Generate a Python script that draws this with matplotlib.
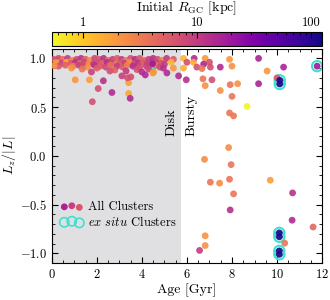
import numpy as np
import matplotlib
import matplotlib.pyplot as plt
from matplotlib.colors import LogNorm
from matplotlib.ticker import FuncFormatter

plt.rcParams['font.family'] = 'serif'
plt.rcParams['font.serif'] = ['cmr10']
plt.rcParams['mathtext.fontset'] = 'cm'
plt.rcParams['axes.formatter.use_mathtext'] = True
plt.rcParams['axes.unicode_minus'] = True

###############################################################################
###                               DATA
###############################################################################
# disk band (dense, Lz/|L| ~ 1)
age_band = [0.10, 0.30, 0.50, 0.70, 0.90, 1.10, 1.30, 1.50, 1.70, 1.90, 2.10, 2.30, 2.50, 2.70,
            2.90, 3.10, 3.30, 3.50, 3.70, 3.90, 4.10, 4.30, 4.50, 4.70, 4.90, 5.10, 5.40,
            0.20, 0.45, 0.65, 0.85, 1.05, 1.25, 1.45, 1.65, 1.85, 2.05, 2.25, 2.45, 2.65,
            2.85, 3.05, 3.25, 3.45, 3.65, 3.85, 4.05, 4.25, 4.45, 4.65, 4.85, 5.00, 5.30,
            0.30, 0.60, 0.95, 1.20, 1.40, 1.60, 1.90, 2.15, 2.40, 2.60, 2.90, 3.15, 3.35,
            3.60, 3.90, 4.20, 4.60, 4.80,
            0.87, 1.35, 2.00, 2.80, 3.30, 3.78, 4.30, 4.95, 5.40, 0.10]
lz_band = [0.99, 1.00, 0.99, 1.00, 0.98, 0.99, 1.00, 0.99, 0.98, 1.00, 0.99, 1.00, 0.98, 0.99,
           1.00, 0.99, 0.98, 1.00, 0.99, 1.00, 0.98, 0.99, 1.00, 0.99, 0.98, 1.00, 0.99,
           0.96, 0.95, 0.96, 0.95, 0.96, 0.95, 0.96, 0.95, 0.94, 0.96, 0.95, 0.96, 0.95,
           0.94, 0.96, 0.95, 0.96, 0.94, 0.95, 0.96, 0.95, 0.94, 0.96, 0.95, 0.94, 0.96,
           0.92, 0.93, 0.92, 0.93, 0.92, 0.91, 0.93, 0.92, 0.91, 0.93, 0.92, 0.91, 0.93,
           0.92, 0.91, 0.92, 0.93, 0.91,
           0.90, 0.89, 0.90, 0.88, 0.87, 0.885, 0.89, 0.90, 0.90, 0.925]
r_band = [6, 8, 4, 10, 2.5, 7, 12, 5, 2.2, 8, 6, 13, 3.5, 9,
          5.5, 10, 3, 7, 13, 6, 4, 9, 12, 7, 2.5, 10, 5.5,
          2, 9, 1.6, 6, 12, 4, 8, 2.5, 10, 7, 5, 13, 8,
          3.5, 6, 10, 2.2, 7, 12, 5.5, 9, 3, 8, 6, 10, 1.3,
          6, 5, 3, 9, 7, 2.2, 12, 5.5, 8, 4, 10, 6, 3,
          13, 7, 9, 3.5, 8,
          2.2, 3.5, 5.5, 5, 10, 7, 8, 12, 2, 2.2]

# scattered clusters
age_sc = [1.04, 1.67, 2.29, 2.06, 2.67, 1.80, 3.41, 3.41, 3.48, 3.36, 3.11, 3.51, 4.00, 4.15,
          4.52, 5.11, 5.63, 1.76, 2.58, 4.49,
          5.85, 6.32, 6.81, 7.89, 6.00, 6.29, 7.00, 6.74, 5.85, 6.44, 6.67, 7.04, 7.48, 8.00,
          5.97, 6.71, 7.11, 6.81, 7.92, 8.25, 7.48, 8.00, 8.67,
          9.18, 9.56, 10.29, 9.18, 10.00,
          7.89, 8.07, 7.85, 6.78, 7.96, 7.04, 7.45, 7.89, 9.70, 8.07, 10.69,
          7.92, 10.67, 11.60, 6.81, 6.81, 6.56, 10.34]
lz_sc = [0.78, 0.78, 0.77, 0.69, 0.65, 0.555, 0.75, 0.64, 0.59, 0.80, 0.82, 0.81, 0.86, 0.83,
         0.86, 0.85, 0.82, 0.86, 0.87, 0.85,
         1.00, 1.00, 1.00, 0.99, 0.96, 0.96, 0.96, 0.94, 0.90, 0.91, 0.895, 0.91, 0.91, 0.92,
         0.78, 0.79, 0.78, 0.72, 0.73, 0.74, 0.67, 0.61, 0.507,
         1.00, 0.87, 0.91, 0.74, 0.80,
         0.44, 0.41, 0.085, -0.036, -0.09, -0.27, -0.28, -0.24, -0.25, -0.39, -0.38,
         -0.555, -0.66, -0.73, -0.82, -0.92, -0.97, -0.895]
r_sc = [2.0, 1.8, 12, 7, 14, 7, 1.8, 1.6, 14, 7, 9, 7, 14, 14,
        2.0, 14, 14, 9, 7, 2.0,
        1.3, 14, 2.0, 2.0, 7, 1.5, 7, 16, 1.4, 7, 3.5, 7, 14, 2.2,
        13, 3.5, 7, 2.2, 3.5, 2.2, 2.2, 3.5, 0.55,
        16, 2.0, 16, 16, 6,
        3.5, 3.5, 2.4, 2.4, 3.5, 3.5, 2.4, 3.5, 1.8, 3.5, 12,
        13, 14, 4.5, 2.2, 2.2, 10, 3.5]

# ex situ clusters
age_ex = [10.12, 10.12, 10.10, 10.10, 10.10, 10.10, 11.78, 4.47]
lz_ex = [0.775, 0.737, -0.79, -0.83, -0.975, -1.01, 0.92, 0.945]
r_ex = [110, 110, 110, 110, 110, 110, 20, 20]

# legend example colours
r_leg = [16, 9, 6]

age = np.array(age_band + age_sc + age_ex)
lz = np.array(lz_band + lz_sc + lz_ex)
r_gc = np.array(r_band + r_sc + r_ex)

cmap = plt.get_cmap('plasma_r')
norm = LogNorm(vmin=0.53, vmax=125)

###############################################################################
###                               PLOT
###############################################################################
fig = plt.figure(figsize=(3.3, 3.0), dpi=100)
ax = fig.add_axes([0.157, 0.123, 0.819, 0.715])
cax = fig.add_axes([0.157, 0.847, 0.819, 0.046])

ax.axvspan(0, 5.75, color='#e0e0e3', zorder=0, lw=0)

ax.scatter(age_ex, lz_ex, s=55, facecolor='none', edgecolor='#40e0d0', lw=1.5, zorder=2)
sc = ax.scatter(age, lz, c=r_gc, cmap=cmap, norm=norm, s=24, lw=0, alpha=0.9, zorder=3)

# legend proxies (off-screen)
ax.scatter([-10] * 3, [0] * 3, c=r_leg, cmap=cmap, norm=norm, s=24, lw=0,
           label='All Clusters')
ax.scatter([-10] * 3, [0] * 3, s=45, facecolor='none', edgecolor='#40e0d0', lw=1.2,
           label=r'$ex\ situ$ Clusters')
ax.legend(loc='lower left', bbox_to_anchor=(0.0, 0.12), frameon=False, fontsize=9,
          handletextpad=0.4, borderpad=0.2, labelspacing=0.12, handlelength=1.8,
          scatterpoints=3)

ax.text(5.6, 0.2, 'Disk', rotation=90, ha='right', va='bottom', fontsize=10)
ax.text(5.95, 0.2, 'Bursty', rotation=90, ha='left', va='bottom', fontsize=10)

ax.set_xlim(0, 12)
ax.set_ylim(-1.1, 1.1)
ax.set_xticks(np.arange(0, 13, 2))
ax.set_xticks(np.arange(0, 12.1, 0.5), minor=True)
ax.set_yticks([-1.0, -0.5, 0.0, 0.5, 1.0])
ax.set_yticks(np.arange(-1.1, 1.11, 0.1), minor=True)
ax.tick_params(which='both', direction='in', top=True, right=True, labelsize=9)
ax.tick_params(which='major', length=4)
ax.tick_params(which='minor', length=2)
ax.set_xlabel('Age [Gyr]', fontsize=10, labelpad=2)
ax.set_ylabel(r'$L_z/|L|$', fontsize=10, labelpad=1)

cb = fig.colorbar(sc, cax=cax, orientation='horizontal')
cb.solids.set_alpha(1)
cax.xaxis.set_ticks_position('top')
cax.xaxis.set_label_position('top')
cax.xaxis.set_major_formatter(FuncFormatter(lambda v, p: '%g' % v))
cax.tick_params(which='both', direction='in', labelsize=9, pad=2)
cax.tick_params(which='major', length=4)
cax.tick_params(which='minor', length=2)
cb.set_label(r'Initial $R_{\rm GC}$ [kpc]', fontsize=10, labelpad=4)

fig.savefig('out.png', dpi=100)
